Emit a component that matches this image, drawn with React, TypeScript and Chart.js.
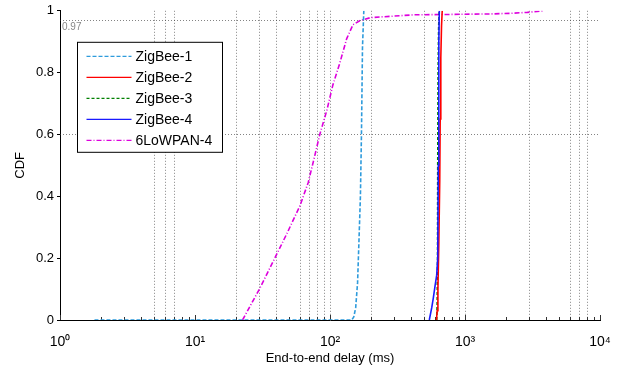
import React, { useEffect, useRef } from "react";
import { Chart, registerables } from "chart.js";

Chart.register(...registerables);

// ---------- data ----------
const seriesNames = ["ZigBee-1", "ZigBee-2", "ZigBee-3", "ZigBee-4", "6LoWPAN-4"];

const zigbee1Delay = [1.8, 145, 150, 155, 160, 164, 168, 171, 174, 178];
const zigbee1Cdf = [0, 0, 0.01, 0.04, 0.12, 0.26, 0.4, 0.6, 0.88, 1.0];

const zigbee2Delay = [615, 622, 630, 640, 650, 655, 662, 670, 678];
const zigbee2Cdf = [0, 0.03, 0.1, 0.25, 0.45, 0.65, 0.85, 0.95, 1.0];

const zigbee3Delay = [617, 622, 626, 628, 632, 638, 645];
const zigbee3Cdf = [0, 0.05, 0.2, 0.5, 0.8, 0.95, 1.0];

const zigbee4Delay = [544, 567, 582, 600, 617, 628, 634, 640, 645];
const zigbee4Cdf = [0, 0.04, 0.07, 0.11, 0.145, 0.2, 0.5, 0.9, 1.0];

const lowpanDelay = [22.5, 30, 39, 48, 60, 69, 77, 84, 95, 105, 118, 133, 148, 166, 200, 300, 420, 700, 1000, 1600, 2200, 2900, 3800];
const lowpanCdf = [0, 0.1, 0.2, 0.28, 0.37, 0.445, 0.53, 0.6, 0.68, 0.76, 0.83, 0.91, 0.955, 0.968, 0.978, 0.983, 0.987, 0.988, 0.989, 0.99, 0.992, 0.995, 1.0];

const xMajorTicks = [1, 10, 100, 1000, 10000];
const xTickLabels = ["10\u2070", "10\u00b9", "10\u00b2", "10\u00b3", "10\u2074"];
const yTicks = [0, 0.2, 0.4, 0.6, 0.8, 1];
const xRefLines = [5, 6, 7, 20, 30, 40, 60, 70, 80, 90, 100, 200, 500, 900, 1000, 3000, 6000, 7000, 8000];
const yRefLines = [0.97, 0.6];
const refLabel = "0.97";
const xTitle = "End-to-end delay (ms)";
const yTitle = "CDF";

// ---------- styles ----------
const seriesColors = ["#2e9bdc", "#ff0000", "#008000", "#1a1aff", "#dd00dd"];
const seriesDashes: number[][] = [[4, 2], [], [3, 2], [], [5, 2, 1, 2]];
const seriesOrder = [4, 2, 3, 1, 5];
const FONT = "'Liberation Sans', Arial, Helvetica, sans-serif";

const allDelays = [zigbee1Delay, zigbee2Delay, zigbee3Delay, zigbee4Delay, lowpanDelay];
const allCdfs = [zigbee1Cdf, zigbee2Cdf, zigbee3Cdf, zigbee4Cdf, lowpanCdf];

const refPlugin = {
  id: "refGrid",
  beforeDatasetsDraw(chart: any) {
    const { ctx, chartArea } = chart;
    const xs = chart.scales.x;
    const ys = chart.scales.y;
    ctx.save();
    ctx.strokeStyle = "rgba(50,50,50,0.6)";
    ctx.lineWidth = 1;
    ctx.setLineDash([1, 2]);
    for (const v of xRefLines) {
      const px = Math.round(xs.getPixelForValue(v)) + 0.5;
      ctx.beginPath();
      ctx.moveTo(px, chartArea.top);
      ctx.lineTo(px, chartArea.bottom);
      ctx.stroke();
    }
    for (const v of yRefLines) {
      const py = Math.round(ys.getPixelForValue(v)) + 0.5;
      ctx.beginPath();
      ctx.moveTo(chartArea.left, py);
      ctx.lineTo(chartArea.right, py);
      ctx.stroke();
    }
    ctx.setLineDash([]);
    // minor/major ticks (inward) on x axis
    ctx.strokeStyle = "#333";
    for (let d = 0; d < xMajorTicks.length; d++) {
      const base = xMajorTicks[d];
      const px0 = Math.round(xs.getPixelForValue(base)) + 0.5;
      ctx.beginPath();
      ctx.moveTo(px0, chartArea.bottom);
      ctx.lineTo(px0, chartArea.bottom - 5);
      ctx.stroke();
      if (d < xMajorTicks.length - 1) {
        for (let m = 2; m <= 9; m++) {
          const px = Math.round(xs.getPixelForValue(base * m)) + 0.5;
          ctx.beginPath();
          ctx.moveTo(px, chartArea.bottom);
          ctx.lineTo(px, chartArea.bottom - 3);
          ctx.stroke();
        }
      }
    }
    // label for ref line
    ctx.fillStyle = "#888";
    ctx.font = `10px ${FONT}`;
    ctx.textBaseline = "top";
    ctx.textAlign = "left";
    ctx.fillText(refLabel, chartArea.left + 2, ys.getPixelForValue(yRefLines[0]) + 2);
    ctx.restore();
  },
};

const legendPlugin = {
  id: "boxLegend",
  afterDraw(chart: any) {
    const { ctx, chartArea } = chart;
    const bx = chartArea.left + 17.5;
    const by = chartArea.top + 31.5;
    const bw = 145;
    const bh = 110;
    ctx.save();
    ctx.fillStyle = "#fff";
    ctx.fillRect(bx, by, bw, bh);
    ctx.strokeStyle = "#000";
    ctx.lineWidth = 1;
    ctx.strokeRect(bx, by, bw, bh);
    ctx.font = `14px ${FONT}`;
    ctx.textBaseline = "middle";
    ctx.textAlign = "left";
    for (let i = 0; i < seriesNames.length; i++) {
      const cy = by + 14 + i * 21;
      ctx.strokeStyle = seriesColors[i];
      ctx.lineWidth = 1.3;
      ctx.setLineDash(seriesDashes[i]);
      ctx.beginPath();
      ctx.moveTo(bx + 9, cy);
      ctx.lineTo(bx + 54, cy);
      ctx.stroke();
      ctx.setLineDash([]);
      ctx.fillStyle = "#000";
      ctx.fillText(seriesNames[i], bx + 58, cy + 1);
    }
    ctx.restore();
  },
};

export default function App() {
  const ref = useRef<HTMLCanvasElement | null>(null);
  useEffect(() => {
    if (!ref.current) return;
    const datasets = seriesNames.map((name, i) => ({
      label: name,
      data: allDelays[i].map((x, j) => ({ x, y: allCdfs[i][j] })),
      borderColor: seriesColors[i],
      backgroundColor: seriesColors[i],
      borderDash: seriesDashes[i],
      borderWidth: 1.6,
      pointRadius: 0,
      showLine: true,
      fill: false,
      tension: 0,
      order: seriesOrder[i],
    }));
    const chart = new Chart(ref.current, {
      type: "scatter",
      data: { datasets },
      plugins: [refPlugin, legendPlugin],
      options: {
        animation: false,
        responsive: false,
        layout: { padding: { top: 8, right: 28, left: 0, bottom: 0 } },
        plugins: { legend: { display: false }, tooltip: { enabled: false } },
        scales: {
          x: {
            type: "logarithmic",
            min: 1,
            max: 10000,
            afterBuildTicks: (s: any) => {
              s.ticks = xMajorTicks.map((v) => ({ value: v }));
            },
            afterFit: (s: any) => {
              s.height = 50;
            },
            ticks: {
              autoSkip: false,
              maxRotation: 0,
              padding: 14,
              color: "#000",
              font: { family: FONT, size: 14 },
              callback: (v: any) => {
                const i = xMajorTicks.indexOf(Number(v));
                return i >= 0 ? xTickLabels[i] : "";
              },
            },
            grid: { drawOnChartArea: false, drawTicks: false },
            border: { display: true, color: "#000", width: 1 },
            title: {
              display: true,
              text: xTitle,
              color: "#000",
              font: { family: FONT, size: 13 },
              padding: { top: 0, bottom: 4 },
            },
          },
          y: {
            min: 0,
            max: 1,
            afterBuildTicks: (s: any) => {
              s.ticks = yTicks.map((v) => ({ value: v }));
            },
            afterFit: (s: any) => {
              s.width = 60;
            },
            ticks: {
              padding: 3,
              color: "#000",
              font: { family: FONT, size: 13 },
              callback: (v: any) => String(Math.round(Number(v) * 10) / 10),
            },
            grid: { drawOnChartArea: false, drawTicks: true, tickLength: 3, color: "#000" },
            border: { display: true, color: "#000", width: 1 },
            title: {
              display: true,
              text: yTitle,
              color: "#000",
              font: { family: FONT, size: 13 },
              padding: { top: 13, bottom: 0 },
            },
          },
        },
      },
    } as any);
    return () => chart.destroy();
  }, []);
  return (
    <div style={{ position: "fixed", left: 0, top: 0, width: 628, height: 370, background: "#fff" }}>
      <canvas ref={ref} width={628} height={370} style={{ width: 628, height: 370 }} />
    </div>
  );
}
